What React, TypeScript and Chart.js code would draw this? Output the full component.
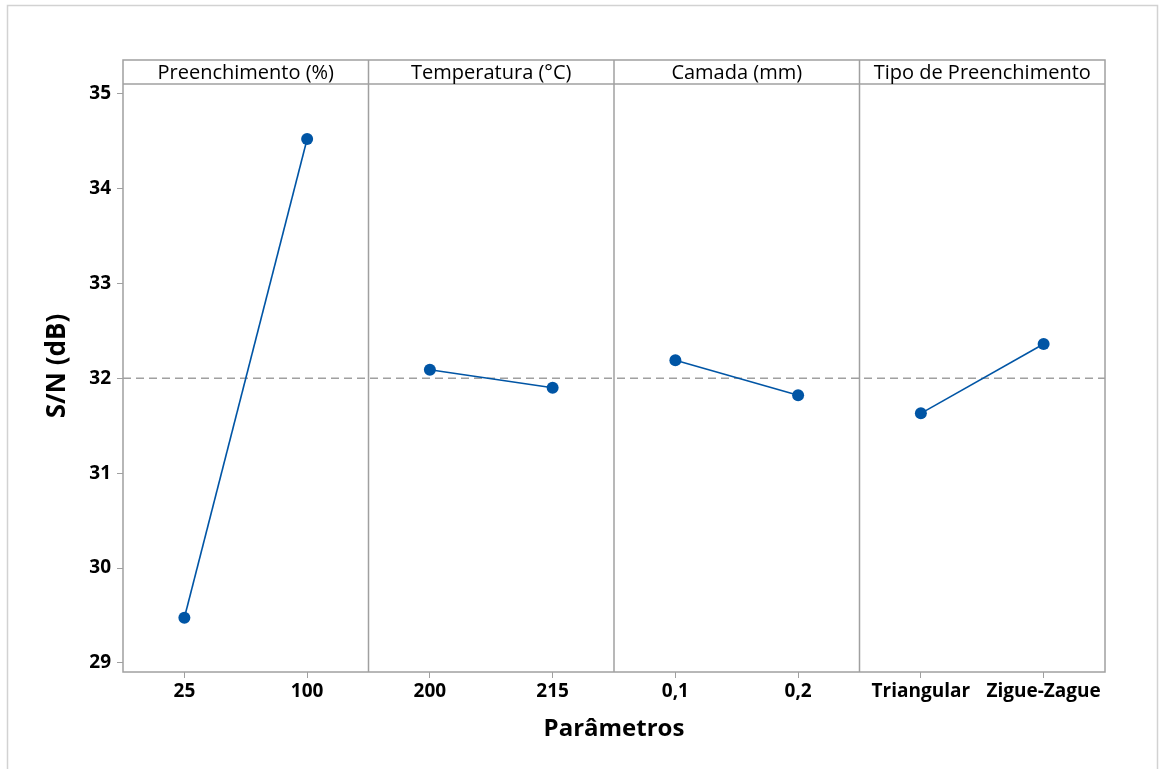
import React, { useEffect, useRef } from "react";
import { Chart, registerables } from "chart.js";

Chart.register(...registerables);

// ---- Data ----
const factorNames = ["Preenchimento (%)", "Temperatura (°C)", "Camada (mm)", "Tipo de Preenchimento"];
const levelLabels = ["25", "100", "200", "215", "0,1", "0,2", "Triangular", "Zigue-Zague"];
const preenchimentoSN = [29.477, 34.52];
const temperaturaSN = [32.09, 31.9];
const camadaSN = [32.19, 31.82];
const tipoSN = [31.63, 32.36];
const overallMean = 32.0;
const yTicks = [29, 30, 31, 32, 33, 34, 35];
const yMin = 28.905;
const yMax = 35.1;
const yTitle = "S/N (dB)";
const xTitle = "Parâmetros";

const FONT = "'Open Sans', 'Noto Sans', sans-serif";
const BLUE = "#0055A5";
const GRAY = "#a0a0a0";
const HEADER_H = 24;

const factorSeries = [preenchimentoSN, temperaturaSN, camadaSN, tipoSN];

const panelPlugin = {
  id: "panels",
  beforeDatasetsDraw(chart: any) {
    const { ctx, chartArea, scales } = chart;
    const y = scales.y;
    const my = y.getPixelForValue(overallMean);
    ctx.save();
    ctx.strokeStyle = GRAY;
    ctx.lineWidth = 1.5;
    ctx.setLineDash([8, 5]);
    ctx.beginPath();
    ctx.moveTo(chartArea.left, my);
    ctx.lineTo(chartArea.right, my);
    ctx.stroke();
    ctx.restore();
  },
  afterDraw(chart: any) {
    const { ctx, chartArea, scales } = chart;
    const { left, right, top, bottom } = chartArea;
    const x = scales.x;
    const headerTop = top - HEADER_H;
    ctx.save();
    // outer light border
    ctx.strokeStyle = "#d2d2d2";
    ctx.lineWidth = 1.5;
    ctx.beginPath();
    ctx.moveTo(7.5, chart.height + 2);
    ctx.lineTo(7.5, 5.5);
    ctx.lineTo(1157.5, 5.5);
    ctx.lineTo(1157.5, chart.height + 2);
    ctx.stroke();

    // plot box with header strip
    ctx.strokeStyle = GRAY;
    ctx.lineWidth = 1.5;
    ctx.strokeRect(left, headerTop, right - left, bottom - headerTop);
    ctx.beginPath();
    ctx.moveTo(left, top);
    ctx.lineTo(right, top);
    ctx.stroke();

    // panel dividers + header labels
    const bounds: number[] = [left];
    for (let i = 1; i < factorNames.length; i++) {
      const b = (x.getPixelForValue(2 * i - 1) + x.getPixelForValue(2 * i)) / 2;
      bounds.push(b);
      ctx.beginPath();
      ctx.moveTo(b, headerTop);
      ctx.lineTo(b, bottom);
      ctx.stroke();
    }
    bounds.push(right);
    ctx.fillStyle = "#000";
    ctx.font = `20px ${FONT}`;
    ctx.textAlign = "center";
    ctx.textBaseline = "middle";
    factorNames.forEach((name, i) => {
      ctx.fillText(name, (bounds[i] + bounds[i + 1]) / 2, headerTop + HEADER_H / 2 + 1);
    });

    // axis titles
    ctx.font = `bold 24px ${FONT}`;
    ctx.fillText(xTitle, (left + right) / 2, 729);
    ctx.font = `bold 26px ${FONT}`;
    ctx.translate(58, (headerTop + bottom) / 2);
    ctx.rotate(-Math.PI / 2);
    ctx.fillText(yTitle, 0, 0);
    ctx.restore();
  },
};

export default function App() {
  const canvasRef = useRef<HTMLCanvasElement | null>(null);

  useEffect(() => {
    if (!canvasRef.current) return;
    const datasets = factorSeries.map((vals, i) => ({
      label: factorNames[i],
      data: vals.map((v, j) => ({ x: levelLabels[2 * i + j], y: v })),
      borderColor: BLUE,
      backgroundColor: BLUE,
      pointBackgroundColor: BLUE,
      pointBorderColor: BLUE,
      pointRadius: 6,
      pointBorderWidth: 0,
      borderWidth: 1.6,
      tension: 0,
    }));

    const chart = new Chart(canvasRef.current, {
      type: "line",
      data: { labels: levelLabels, datasets },
      options: {
        responsive: false,
        animation: false,
        devicePixelRatio: 1,
        layout: { padding: { left: 0, right: 58, top: 84, bottom: 0 } },
        plugins: {
          legend: { display: false },
          tooltip: { enabled: false },
        },
        scales: {
          x: {
            type: "category",
            offset: true,
            grid: {
              display: true,
              drawOnChartArea: false,
              drawTicks: true,
              tickLength: 6,
              color: GRAY,
              offset: false,
            },
            border: { display: false },
            ticks: {
              color: "#000",
              font: { family: FONT, size: 19, weight: "bold" },
              padding: 2,
              maxRotation: 0,
              autoSkip: false,
            },
            afterFit(scale: any) {
              scale.height = 97;
            },
          },
          y: {
            type: "linear",
            min: yMin,
            max: yMax,
            afterBuildTicks(axis: any) {
              axis.ticks = yTicks.map((v) => ({ value: v }));
            },
            grid: {
              display: true,
              drawOnChartArea: false,
              drawTicks: true,
              tickLength: 6,
              color: GRAY,
            },
            border: { display: false },
            ticks: {
              color: "#000",
              font: { family: FONT, size: 19, weight: "bold" },
              padding: 6,
            },
            afterFit(scale: any) {
              scale.width = 123;
            },
          },
        },
      },
      plugins: [panelPlugin],
    });
    return () => chart.destroy();
  }, []);

  return (
    <div style={{ position: "absolute", left: 0, top: 0, width: 1163, height: 769, background: "#fff" }}>
      <canvas ref={canvasRef} width={1163} height={769} style={{ width: 1163, height: 769 }} />
    </div>
  );
}
